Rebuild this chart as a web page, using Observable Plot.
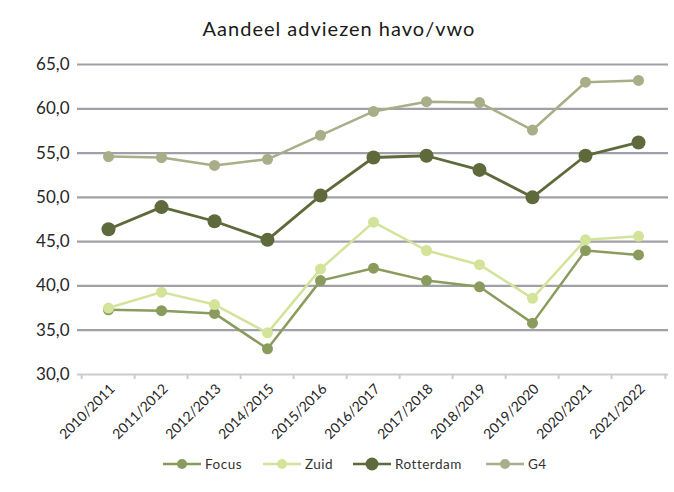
<!DOCTYPE html>
<html>
<head>
<meta charset="utf-8">
<script src="https://cdn.jsdelivr.net/npm/d3@7"></script>
<script src="https://cdn.jsdelivr.net/npm/@observablehq/plot@0.6"></script>
<style>
  html, body { margin: 0; padding: 0; background: #fff; }
  body { width: 674px; height: 492px; overflow: hidden; font-family: Lato, "Open Sans", sans-serif; position: relative; }
  #title { height: 50px; line-height: 56px; text-align: center; font-size: 20px; letter-spacing: 1px; color: #1a1a1a; padding-left: 4px; }
  #chart svg { display: block; }
  #legend { position: absolute; top: 454px; left: 0; width: 674px; height: 20px; font-size: 13.5px; letter-spacing: 0.5px; color: #333; }
  .item { position: absolute; top: 0; display: flex; align-items: center; height: 20px; }
  .item svg { margin-right: 4px; }
</style>
</head>
<body>
<div id="title">Aandeel adviezen havo/vwo</div>
<div id="chart"></div>
<div id="legend"></div>
<script>
const years = ["2010/2011","2011/2012","2012/2013","2014/2015","2015/2016","2016/2017","2017/2018","2018/2019","2019/2020","2020/2021","2021/2022"];
const focus     = [37.3, 37.2, 36.9, 32.9, 40.6, 42.0, 40.6, 39.9, 35.8, 44.0, 43.5];
const zuid      = [37.5, 39.3, 37.9, 34.7, 41.9, 47.2, 44.0, 42.4, 38.6, 45.2, 45.6];
const rotterdam = [46.4, 48.9, 47.3, 45.2, 50.2, 54.5, 54.7, 53.1, 50.0, 54.7, 56.2];
const g4        = [54.6, 54.5, 53.6, 54.3, 57.0, 59.7, 60.8, 60.7, 57.6, 63.0, 63.2];
const yTicks = [30, 35, 40, 45, 50, 55, 60, 65];

const seriesNames = ["Focus", "Zuid", "Rotterdam", "G4"];
const seriesValues = [focus, zuid, rotterdam, g4];
const colors = {Focus: "#8a9c5d", Zuid: "#d4e39a", Rotterdam: "#5e6a3c", G4: "#a9ad88"};
const radius = {Focus: 5.5, Zuid: 5.5, Rotterdam: 7, G4: 5.5};
const widths = {Focus: 2.5, Zuid: 2.5, Rotterdam: 2.8, G4: 2.5};

const W = 674, H = 400, mL = 77, mR = 6;
const step = (W - mL - mR) / years.length;
const fmt = d => d3.format(".1f")(d).replace(".", ",");

const seriesMarks = [];
seriesNames.forEach((s, i) => {
  const rows = years.map((y, j) => ({year: y, value: seriesValues[i][j]}));
  seriesMarks.push(Plot.line(rows, {x: "year", y: "value", stroke: colors[s], strokeWidth: widths[s]}));
});
seriesNames.forEach((s, i) => {
  const rows = years.map((y, j) => ({year: y, value: seriesValues[i][j]}));
  seriesMarks.push(Plot.dot(rows, {x: "year", y: "value", fill: colors[s], r: radius[s], stroke: "none"}));
});

const chart = Plot.plot({
  width: W, height: H,
  marginTop: 14, marginBottom: 76, marginLeft: mL, marginRight: mR,
  style: {fontFamily: "Lato, 'Open Sans', sans-serif", background: "#fff", overflow: "visible"},
  x: {type: "point", domain: years, padding: 0.5, label: null},
  y: {type: "linear", domain: [30, 65], label: null},
  marks: [
    Plot.ruleY(yTicks.filter(t => t > 30), {stroke: "#a0a0a9", strokeWidth: 2.2}),
    Plot.ruleY([30], {stroke: "#cbcbcb", strokeWidth: 2}),
    Plot.ruleX(years, {x: d => d, y1: 30, y2: 30, insetBottom: -5, dx: -step / 2, stroke: "#cbcbcb", strokeWidth: 2}),
    Plot.ruleX([years[years.length - 1]], {x: d => d, y1: 30, y2: 30, insetBottom: -5, dx: step / 2, stroke: "#cbcbcb", strokeWidth: 2}),
    Plot.axisY(yTicks, {tickSize: 0, tickPadding: 8, tickFormat: fmt, fontSize: 17, fill: "#262626", style: {letterSpacing: "2.2px"}}),
    Plot.axisX({tickSize: 0, tickRotate: -45, fontSize: 14, fill: "#262626", tickPadding: 12, dx: 4, style: {letterSpacing: "1.5px"}}),
    ...seriesMarks
  ]
});
document.getElementById("chart").appendChild(chart);

// Legend
const legend = document.getElementById("legend");
const pos = [{name: "Focus", cx: 182}, {name: "Zuid", cx: 282}, {name: "Rotterdam", cx: 372}, {name: "G4", cx: 505}];
pos.forEach(p => {
  const div = document.createElement("div");
  div.className = "item";
  div.style.left = (p.cx - 19) + "px";
  const c = colors[p.name];
  div.innerHTML = `<svg width="38" height="14"><line x1="0" x2="38" y1="7" y2="7" stroke="${c}" stroke-width="2.5"/><circle cx="19" cy="7" r="${radius[p.name] - 0.5}" fill="${c}"/></svg><span>${p.name}</span>`;
  legend.appendChild(div);
});
</script>
</body>
</html>
